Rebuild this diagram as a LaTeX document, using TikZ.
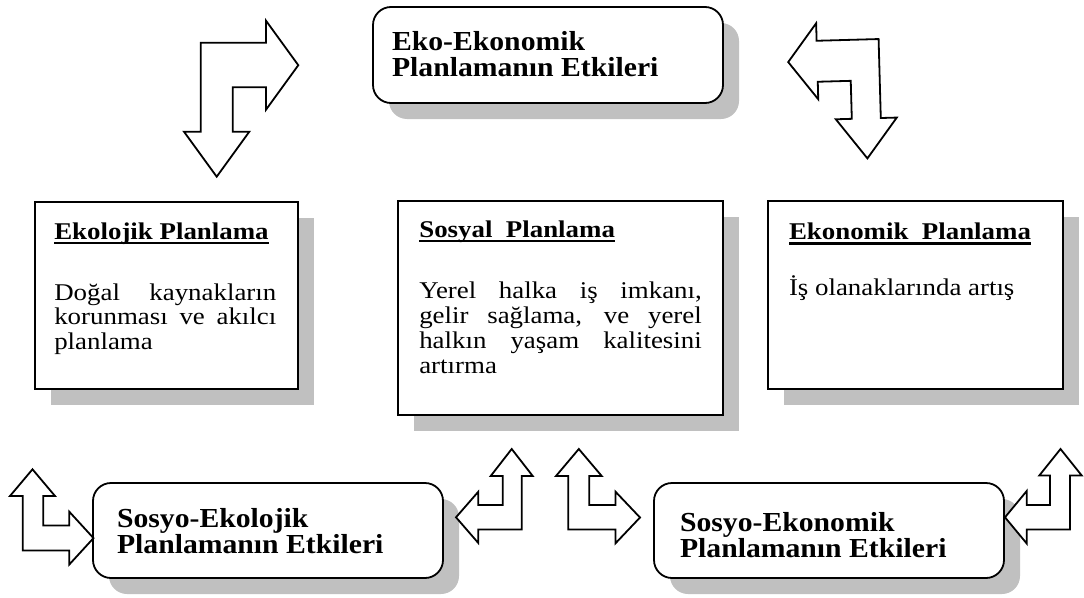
\documentclass[tikz,border=0pt]{standalone}
\usepackage{fontspec}
\setmainfont{Liberation Serif}
\newfontfamily\titlefont[FakeStretch=1.08]{Liberation Serif}
\newfontfamily\bodyfont[FakeStretch=1.12]{Liberation Serif}
\usetikzlibrary{shadows}
\definecolor{shadowgray}{RGB}{192,192,192}
\newcommand\myul[1]{\setbox0\hbox{#1}\rlap{\rule[-5pt]{\wd0}{2.5pt}}\box0}
\newcommand\bigtitle{\titlefont\bfseries\fontsize{27.5}{26}\selectfont\lineskiplimit=-100pt}
\newcommand\midtitle{\bodyfont\bfseries\fontsize{24}{25}\selectfont}
\newcommand\midbody{\bodyfont\fontsize{24}{25}\selectfont\lineskiplimit=-100pt}
\begin{document}
\begin{tikzpicture}[x=1pt,y=-1pt,
  sqbox/.style={draw=black, line width=1.8pt, fill=white, rectangle, inner sep=0pt,
    drop shadow={shadow xshift=16pt, shadow yshift=-16pt, fill=shadowgray, opacity=1}},
  rbox/.style={sqbox, rounded corners=18pt},
  blockarrow/.style={draw=black, fill=white, line width=1.8pt, line join=miter},
  txt/.style={anchor=base west, inner sep=0pt, outer sep=0pt}]
\useasboundingbox (0,0) rectangle (1084,597);

% boxes
\node[rbox, minimum width=350pt, minimum height=96pt] (eco) at (548,55) {};
\node[sqbox, minimum width=263pt, minimum height=187pt] (ekol) at (166.5,295.5) {};
\node[sqbox, minimum width=325pt, minimum height=214pt] (sosy) at (560.5,308) {};
\node[sqbox, minimum width=295pt, minimum height=188pt] (ekon) at (915.5,295) {};
\node[rbox, minimum width=350pt, minimum height=95pt] (sekol) at (268,530.5) {};
\node[rbox, minimum width=350pt, minimum height=95pt] (sekon) at (829,530.5) {};

% texts
\node[txt] (ecoT) at (392,50) {\bigtitle\vtop{\hbox{Eko-Ekonomik}\hbox{Planlamanın Etkileri}}};
\node[txt] (sekolT) at (117,527) {\bigtitle\vtop{\hbox{Sosyo-Ekolojik}\hbox{Planlamanın Etkileri}}};
\node[txt] (sekonT) at (680,531) {\bigtitle\vtop{\hbox{Sosyo-Ekonomik}\hbox{Planlamanın Etkileri}}};

\node[txt] (ekolT) at (54.3,239.3) {\midtitle\myul{Ekolojik Planlama}};
\node[txt] (sosyT) at (419.3,237) {\midtitle\myul{Sosyal\ \ Planlama}};
\node[txt] (ekonT) at (789,239.5) {\midtitle\myul{Ekonomik\ \ Planlama}};

\node[txt] (ekolB) at (54.3,300.5) {\midbody\baselineskip=24.4pt\vtop{%
  \hbox to 222pt{Doğal kaynakların}%
  \hbox to 222pt{korunması ve akılcı}%
  \hbox{planlama}}};
\node[txt] (sosyB) at (419.3,298) {\midbody\baselineskip=25.3pt\vtop{%
  \hbox to 282.5pt{Yerel halka iş imkanı,}%
  \hbox to 282.5pt{gelir sağlama, ve yerel}%
  \hbox to 282.5pt{halkın yaşam kalitesini}%
  \hbox{artırma}}};
\node[txt] (ekonB) at (789,295) {\midbody İş olanaklarında artış};

% block arrows
\draw[blockarrow] (200.7,42.7) -- (266,42.7) -- (266,20.7) -- (298.3,65.2) -- (266,109.7)
  -- (266,87.3) -- (232.7,87.3) -- (232.7,131.7) -- (249.3,131.7) -- (216.7,176.7)
  -- (184,131.7) -- (200.7,131.7) -- cycle;

\draw[blockarrow, rotate around={1.6:(845,90)}] (789,60.5) -- (818,22.5) -- (818,40)
  -- (880,40) -- (880,119) -- (896,119) -- (865.5,159) -- (835,119) -- (851,119)
  -- (851,81) -- (818,81) -- (818,98.5) -- cycle;

\draw[blockarrow] (32.5,469.3) -- (55,496) -- (43.3,496) -- (43.3,525.5) -- (69.3,525.5)
  -- (69.3,511.7) -- (93.5,538.1) -- (69.3,564.5) -- (69.3,550.5) -- (22.7,550.5)
  -- (22.7,496) -- (10,496) -- cycle;

\draw[blockarrow] (511.7,449) -- (532.7,476) -- (521.7,476) -- (521.7,529.5) -- (478.3,529.5)
  -- (478.3,543) -- (456,517.3) -- (478.3,491.7) -- (478.3,505) -- (502.7,505)
  -- (502.7,476) -- (490.7,476) -- cycle;

\draw[blockarrow] (578.8,449) -- (556,476) -- (568.3,476) -- (568.3,529.5) -- (615.5,529.5)
  -- (615.5,543.3) -- (640,517.5) -- (615.5,491.7) -- (615.5,505) -- (589.3,505)
  -- (589.3,476) -- (601.7,476) -- cycle;

\draw[blockarrow] (1060.5,449) -- (1081.7,475.5) -- (1070,475.5) -- (1070,529.5) -- (1026.7,529.5)
  -- (1026.7,543.5) -- (1005,517.3) -- (1026.7,491) -- (1026.7,505) -- (1050,505)
  -- (1050,475.5) -- (1039.3,475.5) -- cycle;
\end{tikzpicture}
\end{document}
